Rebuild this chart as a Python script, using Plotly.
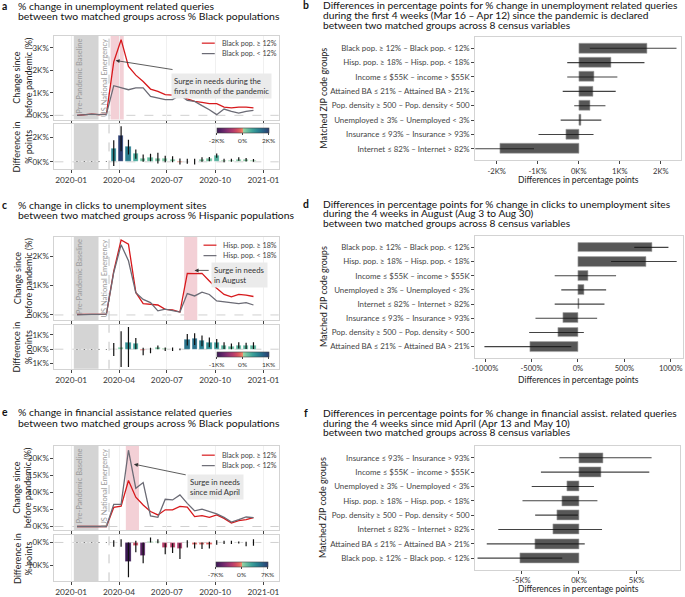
import plotly.graph_objects as go

W, H = 685, 597


def X(p):
    return p / W


def Y(p):
    return 1 - p / H


# ---------------------------------------------------------------- data
DATES = ["2020-01-12", "2020-01-26", "2020-02-09", "2020-02-23", "2020-03-08",
         "2020-03-22", "2020-04-05", "2020-04-19", "2020-05-03", "2020-05-17",
         "2020-05-31", "2020-06-14", "2020-06-28", "2020-07-12", "2020-07-26",
         "2020-08-09", "2020-08-23", "2020-09-06", "2020-09-20", "2020-10-04",
         "2020-10-18", "2020-11-01", "2020-11-15", "2020-11-29", "2020-12-13"]

# a: unemployment queries, % Black population (values in K%)
A_HIGH = [0.0, 0.03, 0.05, 0.03, 0.05, 2.38, 3.37, 2.18, 1.79, 1.51, 1.17, 1.07, 0.92, 0.90, 0.90,
          0.73, 0.62, 0.58, 0.52, 0.52, 0.37, 0.33, 0.37, 0.37, 0.33]
A_LOW = [0.0, 0.03, 0.05, 0.03, 0.05, 1.32, 1.23, 1.14, 1.22, 1.22, 0.84, 0.78, 0.70, 0.70, 0.90,
         0.67, 0.62, 0.43, 0.25, 0.03, 0.28, 0.18, 0.10, 0.18, 0.22]
A_DIFF = [0.0, 0.0, 0.0, 0.0, 0.0, 1.05, 2.14, 1.22, 0.65, 0.27, 0.38, 0.27, 0.24, 0.19, -0.05,
          0.0, 0.0, 0.19, 0.27, 0.54, 0.08, 0.11, 0.22, 0.16, 0.08]
A_LO = [-0.02, -0.02, -0.02, -0.02, -0.02, -0.35, 0.86, 0.60, 0.24, 0.0, 0.05, -0.14, -0.03, -0.03, -0.22,
        -0.16, -0.22, 0.0, 0.05, 0.32, -0.03, 0.0, 0.08, 0.03, 0.0]
A_HI = [0.02, 0.02, 0.02, 0.02, 0.02, 1.76, 2.90, 1.80, 1.00, 0.60, 0.65, 0.73, 0.50, 0.46, 0.27,
        0.24, 0.24, 0.38, 0.40, 0.68, 0.24, 0.24, 0.38, 0.30, 0.22]

# c: clicks to unemployment sites, % Hispanic population (K%)
C_HIGH = [0.02, 0.02, 0.03, 0.02, 0.03, 1.50, 2.56, 2.42, 0.77, 0.39, 0.36, 0.34, 0.19, 0.17, 0.10,
          1.42, 1.41, 1.42, 1.16, 0.91, 0.70, 0.62, 0.70, 0.68, 0.63]
C_LOW = [0.0, 0.02, 0.02, 0.02, 0.03, 1.45, 2.40, 1.85, 0.76, 0.53, 0.42, 0.14, 0.20, 0.15, 0.10,
         0.73, 0.65, 0.78, 0.70, 0.48, 0.45, 0.40, 0.39, 0.42, 0.34]
C_DIFF = [0.0, 0.0, 0.0, 0.0, 0.0, 0.0, 0.10, 0.48, 0.37, -0.12, -0.05, 0.14, 0.02, 0.0, 0.0,
          0.67, 0.71, 0.60, 0.48, 0.44, 0.25, 0.18, 0.25, 0.23, 0.23]
C_LO = [-0.02, -0.02, -0.02, -0.02, -0.02, -0.48, -1.25, -1.25, 0.0, -0.42, -0.28, 0.0, -0.12, -0.12, -0.08,
        0.25, 0.30, 0.20, 0.14, 0.10, 0.02, 0.0, 0.05, 0.02, 0.02]
C_HI = [0.02, 0.02, 0.02, 0.02, 0.02, 0.44, 1.25, 1.55, 0.78, 0.10, 0.10, 0.25, 0.12, 0.12, 0.05,
        1.06, 1.12, 0.95, 0.82, 0.72, 0.48, 0.40, 0.48, 0.45, 0.48]

# e: financial assistance queries, % Black population (K%)
E_HIGH = [0.0, 0.0, 0.0, 0.0, 0.0, 5.6, 6.0, 13.5, 8.6, 6.3, 4.4, 3.4, 4.9, 4.9, 5.9,
          5.7, 2.9, 3.2, 2.7, 3.4, 2.4, 1.0, 1.7, 2.0, 2.6]
E_LOW = [0.0, 0.0, 0.0, 0.0, 0.0, 6.5, 6.5, 22.4, 11.2, 12.9, 3.1, 2.7, 8.0, 7.8, 9.3,
         6.8, 4.6, 5.1, 4.4, 3.7, 2.7, 1.3, 2.0, 2.8, 2.6]
E_DIFF = [0.0, 0.0, 0.0, 0.0, 0.0, -0.3, -0.1, -8.3, -1.7, -5.8, 0.3, 0.2, -2.5, -2.5, -2.9,
          -0.2, -1.0, -1.0, -1.0, -0.2, 0.0, 0.0, 0.0, -0.4, 0.0]
E_LO = [-0.1, -0.1, -0.1, -0.1, -0.1, -1.9, -1.9, -15.2, -4.3, -9.1, 0.0, -0.3, -5.1, -4.6, -7.2,
        -2.2, -2.6, -2.9, -2.6, -1.0, -0.7, -0.7, -0.4, -1.7, -1.4]
E_HI = [0.1, 0.1, 0.1, 0.1, 0.1, 1.0, 1.4, 0.0, 0.7, 0.0, 2.2, 1.4, -0.3, -0.3, -0.3,
        1.0, 0.0, 0.0, 0.3, 1.0, 0.7, 0.7, 0.4, 0.3, 1.4]

# b, d, f: matched-group differences (top row first)
B_LABELS = ["Black pop. ≥ 12% – Black pop. < 12%", "Hisp. pop. ≥ 18% – Hisp. pop. < 18%",
            "Income ≤ $55K – income > $55K", "Attained BA ≤ 21% – Attained BA > 21%",
            "Pop. density ≥ 500 – Pop. density < 500", "Unemployed ≥ 3% – Unemployed < 3%",
            "Insurance ≤ 93% – Insurance > 93%", "Internet ≤ 82% – Internet > 82%"]
B_VALUES = [1.66, 0.79, 0.37, 0.35, 0.28, 0.06, -0.31, -1.91]
B_LO = [0.27, -0.28, -0.28, -0.39, -0.11, -0.44, -0.98, -2.70]
B_HI = [2.38, 1.60, 0.94, 0.90, 0.65, 0.55, 0.36, -1.09]

D_LABELS = ["Black pop. ≥ 12% – Black pop. < 12%", "Hisp. pop. ≥ 18% – Hisp. pop. < 18%",
            "Income ≤ $55K – income > $55K", "Unemployed ≥ 3% – Unemployed < 3%",
            "Internet ≤ 82% – Internet > 82%", "Insurance ≤ 93% – Insurance > 93%",
            "Pop. density ≥ 500 – Pop. density < 500", "Attained BA ≤ 21% – Attained BA > 21%"]
D_VALUES = [804, 732, 114, 71, 11, -161, -214, -511]
D_LO = [607, 357, -250, -179, -250, -457, -525, -1007]
D_HI = [975, 1064, 411, 304, 286, 207, 64, -71]

F_LABELS = ["Insurance ≤ 93% – Insurance > 93%", "Income ≤ $55K – income > $55K",
            "Unemployed ≥ 3% – Unemployed < 3%", "Hisp. pop. ≥ 18% – Hisp. pop. < 18%",
            "Pop. density ≥ 500 – Pop. density < 500", "Internet ≤ 82% – Internet > 82%",
            "Attained BA ≤ 21% – Attained BA > 21%", "Black pop. ≥ 12% – Black pop. < 12%"]
F_VALUES = [2.1, 1.9, -1.0, -1.45, -1.85, -2.2, -3.8, -5.1]
F_LO = [-1.7, -3.3, -4.1, -4.9, -3.8, -7.0, -8.0, -8.8]
F_HI = [6.3, 6.1, 1.3, 1.6, -0.1, 2.0, 0.5, -1.45]

DATE_TICKS = ["2020-01-01", "2020-04-01", "2020-07-01", "2020-10-01", "2021-01-01"]
DATE_TICKTEXT = ["2020-01", "2020-04", "2020-07", "2020-10", "2021-01"]

# ---------------------------------------------------------------- style
FONT = "Lato"
RED, GREY = "#d7191c", "#6b6b75"
FRAME = "#d3d3d3"
TICKC = "#444444"
CSCALE = [[0.0, "#3b1954"], [0.1, "#5f2468"], [0.2, "#872f70"], [0.3, "#b03a6c"],
          [0.38, "#d04a62"], [0.45, "#e4685e"], [0.5, "#ee9070"],
          [0.5, "#9fd4a4"], [0.58, "#6cc0a0"], [0.68, "#3fa39a"], [0.78, "#2a8591"],
          [0.88, "#276587"], [1.0, "#2b3d70"]]
XRANGE = ["2019-11-30", "2021-01-30"]
BASELINE = ("2020-01-06", "2020-02-22")
EMERGENCY = "2020-03-13"
BAR_W = 10 * 86400000

fig = go.Figure()
shapes, annots = [], []


def sfx(i):
    return "" if i == 1 else str(i)


def text(x, y, s, size=9.5, color="#222", xanchor="left", yanchor="middle", angle=0, **kw):
    annots.append(dict(x=X(x), y=Y(y), xref="paper", yref="paper", text=s, showarrow=False,
                       xanchor=xanchor, yanchor=yanchor, textangle=angle,
                       font=dict(family=FONT, size=size, color=color), **kw))


def axis_common(size=8):
    return dict(showline=True, mirror=True, linecolor=FRAME, linewidth=1, ticks="outside",
                ticklen=3, tickwidth=0.8, tickcolor=TICKC, zeroline=False,
                tickfont=dict(family=FONT, size=size, color="#333"))


def time_panel(it, ib, xpx, top, bot, high, low, diff, lo, hi, yt, yb, cax, cmax, ctext, cpos,
               names, pink, legend_pos, note, note_pos, arrow):
    xa, ya = "x" + sfx(it), "y" + sfx(it)
    xb, yb_ = "x" + sfx(ib), "y" + sfx(ib)
    fig.add_trace(go.Scatter(x=DATES, y=high, mode="lines", line=dict(color=RED, width=1.3),
                             xaxis=xa, yaxis=ya, showlegend=False, name=names[0]))
    fig.add_trace(go.Scatter(x=DATES, y=low, mode="lines", line=dict(color=GREY, width=1.3),
                             xaxis=xa, yaxis=ya, showlegend=False, name=names[1]))
    fig.add_trace(go.Bar(
        x=DATES, y=diff, width=BAR_W, xaxis=xb, yaxis=yb_, showlegend=False,
        marker=dict(color=diff, coloraxis=cax, line=dict(color="rgba(255,255,255,0.5)", width=0.6)),
        error_y=dict(type="data", symmetric=False,
                     array=[h - v for h, v in zip(hi, diff)],
                     arrayminus=[v - l for v, l in zip(diff, lo)],
                     color="#111", thickness=1.2, width=0)))

    for i, (t0, t1), ticks, labels_on in ((it, top, yt, False), (ib, bot, yb, True)):
        rng, vals, txt = ticks
        fig.layout["xaxis" + sfx(i)] = dict(
            axis_common(8.3), domain=[X(xpx[0]), X(xpx[1])], range=XRANGE, type="date",
            anchor="y" + sfx(i), tickvals=DATE_TICKS, ticktext=DATE_TICKTEXT,
            showticklabels=labels_on, showgrid=True, gridcolor="#f0f0f0", gridwidth=1)
        fig.layout["yaxis" + sfx(i)] = dict(
            axis_common(), domain=[Y(t1), Y(t0)], range=rng, anchor="x" + sfx(i),
            tickvals=vals, ticktext=txt, showgrid=False)
        xr, yr = "x" + sfx(i), "y" + sfx(i)
        shapes.append(dict(type="rect", xref=xr, yref=yr + " domain", x0=BASELINE[0], x1=BASELINE[1],
                           y0=0, y1=1, fillcolor="#d4d4d4", line=dict(width=0), layer="below"))
        shapes.append(dict(type="line", xref=xr, yref=yr + " domain", x0=EMERGENCY, x1=EMERGENCY,
                           y0=0, y1=1, line=dict(color="#c4c4c4", width=1, dash="dash"), layer="below"))
        shapes.append(dict(type="line", xref=xr + " domain", yref=yr, x0=0, x1=1, y0=0, y1=0,
                           line=dict(color="#d0d0d0", width=1, dash="dash"), layer="below"))
    shapes.append(dict(type="rect", xref=xa, yref=ya + " domain", x0=pink[0], x1=pink[1],
                       y0=0, y1=1, fillcolor="#f3d0d6", line=dict(width=0), layer="below"))

    # colourbar for the difference bars
    fig.layout[cax] = dict(colorscale=CSCALE, cmin=-cmax, cmax=cmax, colorbar=dict(
        orientation="h", x=X(cpos[0]), y=Y(cpos[1]), xanchor="center", yanchor="top",
        len=52 / W, thickness=5, xpad=0, ypad=0, outlinewidth=0.6, outlinecolor="#444",
        tickvals=[-cmax, 0, cmax], ticktext=ctext, ticks="outside", ticklen=2, tickwidth=0.6,
        tickcolor="#444", tickfont=dict(family=FONT, size=6.5, color="#333")))

    # vertical labels
    text(76.7, top[0] + 1, "Pre-Pandemic Baseline", size=7.5, color="#9a9a9a",
         xanchor="center", yanchor="top", angle=-90)
    text(102.6, top[0] + 1, "US National Emergency", size=7.5, color="#9a9a9a",
         xanchor="center", yanchor="top", angle=-90)
    # axis titles
    cy = (top[0] + top[1]) / 2
    text(14, cy, "Change since", size=9, color="#222", xanchor="center", angle=-90)
    text(25.5, cy, "before pandemic (%)", size=9, color="#222", xanchor="center", angle=-90)
    cy = (bot[0] + bot[1]) / 2
    text(14, cy, "Difference in", size=9, color="#222", xanchor="center", angle=-90)
    text(25.5, cy, "% points", size=9, color="#222", xanchor="center", angle=-90)
    # legend
    lx, ly = legend_pos
    for k, (nm, col) in enumerate(zip(names, (RED, GREY))):
        yy = ly + 10.5 * k
        shapes.append(dict(type="line", xref="paper", yref="paper", x0=X(lx), x1=X(lx + 13),
                           y0=Y(yy), y1=Y(yy), line=dict(color=col, width=1.2)))
        text(lx + 18, yy, nm, size=7.2, color="#444")
    # callout
    text(note_pos[0], note_pos[1], note, size=7.8, color="#333", yanchor="top",
         align="left", bgcolor="#ebebeb", borderpad=2)
    (hx, hy), (tx, ty) = arrow
    annots.append(dict(x=X(hx), y=Y(hy), xref="paper", yref="paper", text="", showarrow=True,
                       ax=tx - hx, ay=ty - hy, axref="pixel", ayref="pixel", arrowhead=2,
                       arrowsize=1, arrowwidth=0.8, arrowcolor="#333", standoff=0))


def bar_panel(i, xpx, ypx, labels, vals, lo, hi, rng, tickv, tickt):
    fig.add_trace(go.Bar(
        y=labels, x=vals, orientation="h", width=0.7, xaxis="x" + sfx(i), yaxis="y" + sfx(i),
        showlegend=False, marker=dict(color="#575757", line=dict(color="#a8a8a8", width=0.6)),
        error_x=dict(type="data", symmetric=False,
                     array=[h - v for h, v in zip(hi, vals)],
                     arrayminus=[v - l for v, l in zip(vals, lo)],
                     color="rgba(20,20,20,0.8)", thickness=1.1, width=0)))
    fig.layout["xaxis" + sfx(i)] = dict(axis_common(7.6), domain=[X(xpx[0]), X(xpx[1])], range=rng,
                                        anchor="y" + sfx(i), tickvals=tickv, ticktext=tickt,
                                        showgrid=False)
    fig.layout["yaxis" + sfx(i)] = dict(axis_common(7.9), domain=[Y(ypx[1]), Y(ypx[0])],
                                        range=[7.81, -0.81], anchor="x" + sfx(i), type="category",
                                        showgrid=False, categoryorder="array", categoryarray=labels)
    fig.layout["yaxis" + sfx(i)].tickfont.color = "#444"
    text(322, (ypx[0] + ypx[1]) / 2, "Matched ZIP code groups", size=9, xanchor="center", angle=-90)


time_panel(1, 2, (51.7, 277.3), (36, 120), (124, 170), A_HIGH, A_LOW, A_DIFF, A_LO, A_HI,
           ([-0.19, 3.54], [0, 1, 2, 3], ["0K%", "1K%", "2K%", "3K%"]),
           ([-0.62, 3.11], [0, 2], ["0K%", "2K%"]),
           "coloraxis", 2, ["-2K%", "0%", "2K%"], (241, 128.5),
           ["Black pop. ≥ 12%", "Black pop. < 12%"], ("2020-03-16", "2020-04-10"), (200, 43.3),
           "Surge in needs during the<br>first month of the pandemic", (169, 73),
           ((113.3, 60.7), (171.7, 70)))
time_panel(3, 4, (51.7, 277.3), (237.3, 321), (325.7, 370), C_HIGH, C_LOW, C_DIFF, C_LO, C_HI,
           ([-0.17, 2.68], [0, 1, 2], ["0K%", "1K%", "2K%"]),
           ([-1.37, 1.72], [-1, 0, 1], ["-1K%", "0K%", "1K%"]),
           "coloraxis2", 1, ["-1K%", "0%", "1K%"], (241, 353.5),
           ["Hisp. pop. ≥ 18%", "Hisp. pop. < 18%"], ("2020-08-03", "2020-08-28"), (201.7, 246),
           "Surge in needs<br>in August", (209.3, 262.7),
           ((192.7, 271.3), (208.3, 271.3)))
time_panel(5, 6, (51.7, 277.3), (447.3, 531.7), (536.7, 583.3), E_HIGH, E_LOW, E_DIFF, E_LO, E_HI,
           ([-1.0, 23.7], [0, 5, 10, 15, 20], ["0K%", "5K%", "10K%", "15K%", "20K%"]),
           ([-16.96, 3.3], [-10, 0], ["-10K%", "0K%"]),
           "coloraxis3", 7, ["-7K%", "0%", "7K%"], (240, 564),
           ["Black pop. ≥ 12%", "Black pop. < 12%"], ("2020-04-14", "2020-05-09"), (200, 456.7),
           "Surge in needs<br>since mid April", (185, 475.7),
           ((131.7, 465.7), (185, 476.7)))

bar_panel(7, (475, 682), (36.7, 161), B_LABELS, B_VALUES, B_LO, B_HI, [-2.52, 2.49],
          [-2, -1, 0, 1, 2], ["-2K%", "-1K%", "0K%", "1K%", "2K%"])
bar_panel(8, (475, 684), (236.7, 359.3), D_LABELS, D_VALUES, D_LO, D_HI, [-1106, 1132],
          [-1000, -500, 0, 500, 1000], ["-1000%", "-500%", "0%", "500%", "1000%"])
bar_panel(9, (475, 680.7), (447.7, 571.7), F_LABELS, F_VALUES, F_LO, F_HI, [-9.0, 8.74],
          [-5, 0, 5], ["-5K%", "0K%", "5K%"])
for yy in (180.5, 381.5, 590.5):
    text(578.5, yy, "Differences in percentage points", size=8.5, xanchor="center")

# panel titles
TITLES = [
    ("a", 2, 13.3, [6, 16], ["% change in unemployment related queries",
                             "between two matched groups across % Black populations"]),
    ("b", 305, 320, [5.5, 15.2, 24.9], ["Differences in percentage points for % change in unemployment related queries",
                                        "during the first 4 weeks (Mar 16 – Apr 12) since the pandemic is declared",
                                        "between two matched groups across 8 census variables"]),
    ("c", 2, 13.3, [206, 216], ["% change in clicks to unemployment sites",
                                "between two matched groups across % Hispanic populations"]),
    ("d", 305, 320, [204.5, 214.2, 223.9], ["Differences in percentage points for % change in clicks to unemployment sites",
                                            "during the 4 weeks in August (Aug 3 to Aug 30)",
                                            "between two matched groups across 8 census variables"]),
    ("e", 2, 13.3, [413.5, 424], ["% change in financial assistance related queries",
                                  "between two matched groups across % Black populations"]),
    ("f", 305, 320, [414.5, 424.2, 433.9], ["Differences in percentage points for % change in financial assist. related queries",
                                            "during the 4 weeks since mid April (Apr 13 and May 10)",
                                            "between two matched groups across 8 census variables"]),
]
for letter, lx, tx, ys, lines in TITLES:
    size = 10.2 if letter in "bdf" else 10.4
    text(lx, ys[0], "<b>" + letter + "</b>", size=10.4, color="#111", xanchor="center")
    for yy, ln in zip(ys, lines):
        text(tx, yy, ln, size=size, color="#111")

fig.update_layout(
    width=W, height=H, autosize=False, margin=dict(l=0, r=0, t=0, b=0),
    paper_bgcolor="white", plot_bgcolor="white", font=dict(family=FONT, size=8, color="#333"),
    shapes=shapes, annotations=annots, bargap=0, barmode="overlay", showlegend=False,
)
# the page's default 8px body margin would push the figure off the window
fig.write_html("out.html", config={"displayModeBar": False},
               post_script="document.body.style.margin = '0px';")
